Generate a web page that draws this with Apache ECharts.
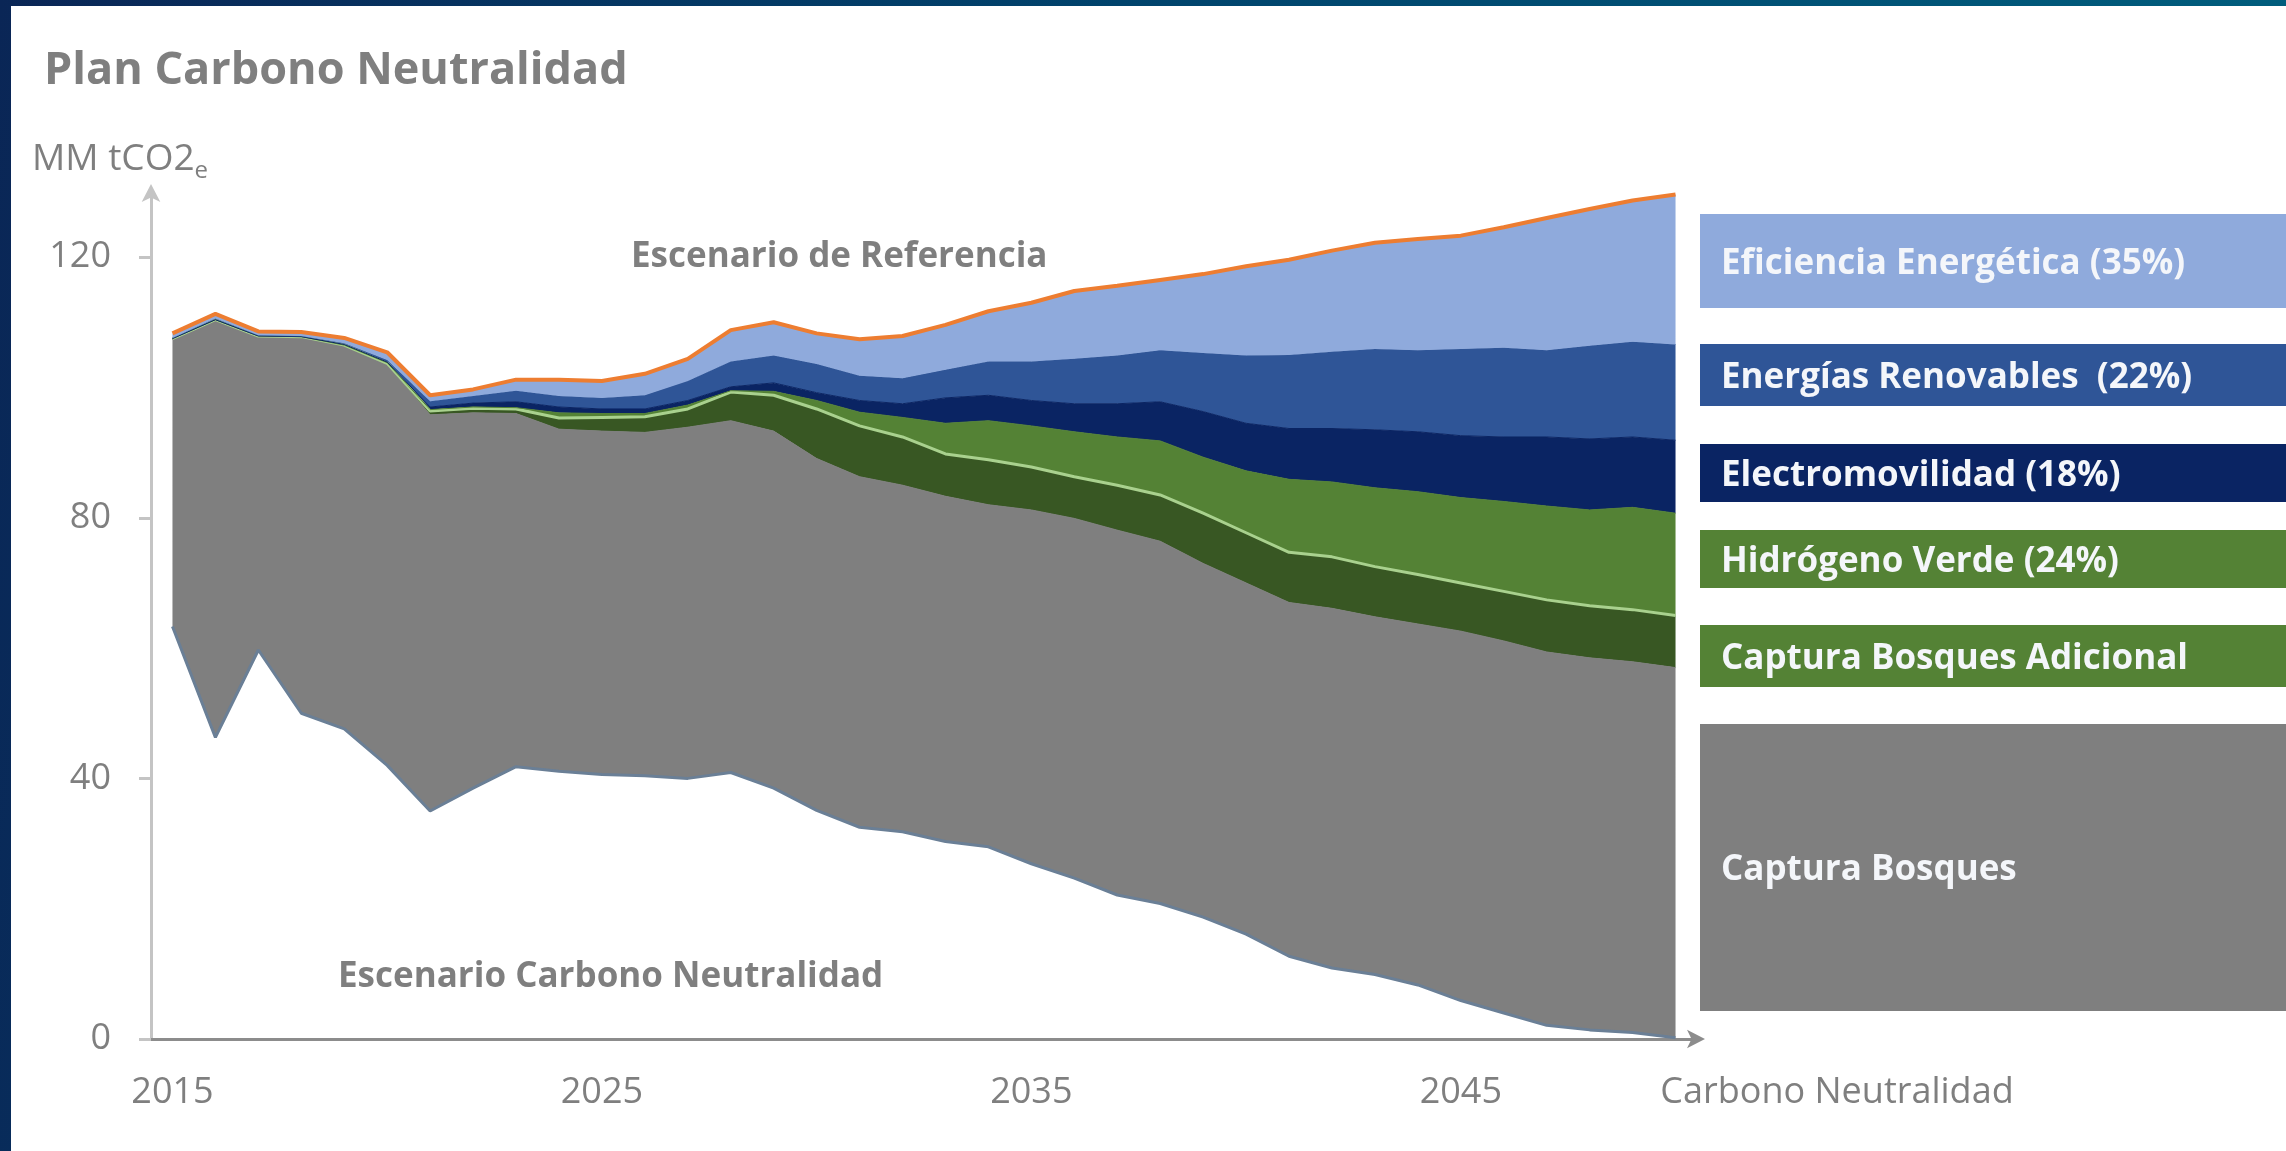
<!DOCTYPE html>
<html>
<head>
<meta charset="utf-8">
<title>Plan Carbono Neutralidad</title>
<script src="https://cdn.jsdelivr.net/npm/echarts@6/dist/echarts.min.js"></script>
<style>
    html, body {
        margin: 0;
        padding: 0;
        width: 2286px;
        height: 1151px;
        overflow: hidden;
        background: linear-gradient(100deg, #0a2656 0%, #00436c 45%, #00617f 100%);
    }
    #chart {
        position: absolute;
        left: 11px;
        top: 6px;
        width: 2275px;
        height: 1145px;
        background: #fff;
    }
</style>
</head>
<body>
<div id="chart"></div>
<script>
// categorias (años)
var years = ['2015', '2016', '2017', '2018', '2019', '2020', '2021', '2022', '2023', '2024',
    '2025', '2026', '2027', '2028', '2029', '2030', '2031', '2032', '2033', '2034',
    '2035', '2036', '2037', '2038', '2039', '2040', '2041', '2042', '2043', '2044',
    '2045', '2046', '2047', '2048', '2049', '2050'];

// bordes superiores de cada capa, MM tCO2e
var referencia = [108.3, 111.3, 108.6, 108.5, 107.6, 105.4, 98.8, 99.7, 101.2, 101.2,
    101.0, 102.1, 104.4, 108.8, 110.0, 108.3, 107.4, 107.9, 109.6, 111.7,
    113.0, 114.8, 115.6, 116.5, 117.4, 118.6, 119.6, 121.0, 122.2, 122.8,
    123.3, 124.6, 126.0, 127.4, 128.7, 129.6];
var renovables = [107.6, 110.6, 108.0, 107.9, 106.8, 104.2, 97.9, 98.7, 99.5, 98.7,
    98.4, 98.8, 101.0, 104.0, 104.9, 103.6, 101.8, 101.4, 102.7, 104.0,
    104.0, 104.4, 104.9, 105.7, 105.3, 104.9, 105.0, 105.5, 105.9, 105.7,
    105.9, 106.1, 105.7, 106.4, 107.0, 106.6];
var electromovilidad = [107.5, 110.4, 107.9, 107.8, 106.6, 103.9, 97.0, 97.6, 97.8, 97.0,
    96.7, 96.7, 98.0, 100.1, 100.7, 99.2, 98.0, 97.5, 98.4, 98.8,
    98.0, 97.5, 97.5, 97.8, 96.3, 94.5, 93.7, 93.7, 93.5, 93.2,
    92.6, 92.4, 92.4, 92.1, 92.4, 91.9];
var hidrogeno = [107.5, 110.4, 107.9, 107.8, 106.5, 103.8, 96.6, 97.0, 96.9, 96.1,
    96.0, 96.0, 97.3, 99.5, 99.4, 98.0, 96.2, 95.4, 94.5, 94.9,
    94.1, 93.2, 92.4, 91.8, 89.3, 87.2, 85.9, 85.5, 84.6, 84.0,
    83.1, 82.5, 81.8, 81.2, 81.6, 80.7];
var bosquesAdicional = [107.5, 110.4, 107.9, 107.8, 106.5, 103.7, 96.4, 96.8, 96.7, 95.3,
    95.4, 95.5, 96.7, 99.3, 98.8, 96.7, 94.1, 92.4, 89.8, 88.9,
    87.8, 86.3, 85.0, 83.5, 80.7, 77.7, 74.7, 74.0, 72.5, 71.3,
    70.0, 68.7, 67.4, 66.5, 65.9, 65.0];
var bosques = [107.4, 110.2, 107.9, 107.8, 106.4, 103.5, 95.8, 96.1, 96.0, 93.6,
    93.3, 93.1, 93.9, 94.9, 93.3, 89.1, 86.3, 85.0, 83.3, 82.0,
    81.2, 79.9, 78.1, 76.4, 73.0, 70.0, 67.0, 66.1, 64.8, 63.7,
    62.6, 61.1, 59.4, 58.5, 57.9, 57.0];
// Escenario Carbono Neutralidad (emisiones netas)
var neutralidad = [63.3, 46.3, 59.7, 50.0, 47.6, 42.0, 35.0, 38.5, 41.8, 41.1,
    40.6, 40.4, 40.0, 40.9, 38.5, 35.1, 32.5, 31.8, 30.3, 29.5,
    26.9, 24.7, 22.1, 20.8, 18.7, 16.1, 12.7, 10.9, 9.9, 8.3,
    5.9, 4.0, 2.1, 1.4, 1.0, 0.2];

// etiquetas de ejes y leyenda
var yTicks = [0, 40, 80, 120];
var legendLabels = ['Eficiencia Energética (35%)', 'Energías Renovables  (22%)', 'Electromovilidad (18%)',
    'Hidrógeno Verde (24%)', 'Captura Bosques Adicional', 'Captura Bosques'];

// colores
var cGray = '#7f7f7f',
    cAdicional = '#385723',
    cHidrogeno = '#548235',
    cElectro = '#0a2463',
    cRenov = '#2f5597',
    cEficiencia = '#8faadc';
var legendColors = [cEficiencia, cRenov, cElectro, cHidrogeno, cHidrogeno, cGray];
// [top, height] de cada caja de leyenda
var legendBoxes = [[208, 94], [338, 62], [438, 58], [524, 58], [619, 62], [718, 287]];

function band(upper, lower) {
    return upper.map(function (v, i) {
        return Math.round((v - lower[i]) * 10) / 10;
    });
}

function $extend(a, b) {
    for (var k in b) { a[k] = b[k]; }
    return a;
}

function layer(name, color, data, extra) {
    return $extend({
        name: name,
        type: 'line',
        stack: 'total',
        symbol: 'none',
        data: data,
        areaStyle: { color: color, opacity: 1 },
        lineStyle: { color: color, width: 1 },
        itemStyle: { color: color },
        emphasis: { disabled: true },
        animation: false
    }, extra || {});
}

var textGray = '#7f7f7f';
var chart = echarts.init(document.getElementById('chart'));

// cajas de leyenda a la derecha
var graphics = legendLabels.map(function (label, i) {
    var box = legendBoxes[i];
    return {
        type: 'group',
        left: 1689,
        top: box[0],
        children: [{
            type: 'rect',
            shape: { x: 0, y: 0, width: 586, height: box[1] },
            style: { fill: legendColors[i] }
        }, {
            type: 'text',
            x: 21,
            y: box[1] / 2 + 3,
            style: {
                text: label,
                fill: '#f4f6fa',
                fontFamily: 'Open Sans',
                fontWeight: 'bold',
                fontSize: 35,
                verticalAlign: 'middle'
            }
        }]
    };
});
graphics.push({
    type: 'text',
    x: 620,
    y: 251,
    style: {
        text: 'Escenario de Referencia',
        fill: textGray,
        fontFamily: 'Open Sans',
        fontWeight: 'bold',
        fontSize: 35,
        verticalAlign: 'middle'
    }
}, {
    type: 'text',
    x: 327,
    y: 971,
    style: {
        text: 'Escenario Carbono Neutralidad',
        fill: textGray,
        fontFamily: 'Open Sans',
        fontWeight: 'bold',
        fontSize: 35,
        verticalAlign: 'middle'
    }
});

var option = {
    backgroundColor: '#fff',
    title: {
        text: 'Plan Carbono Neutralidad',
        left: 28,
        top: 38,
        textStyle: {
            fontFamily: 'Open Sans',
            fontWeight: 'bold',
            fontSize: 45,
            color: textGray
        }
    },
    grid: {
        left: 140,
        right: 589,
        top: 186,
        bottom: 112,
        containLabel: false
    },
    xAxis: {
        type: 'category',
        data: years,
        boundaryGap: true,
        name: 'Carbono Neutralidad',
        nameLocation: 'end',
        nameGap: 140,
        nameTextStyle: {
            fontFamily: 'Open Sans',
            fontSize: 36,
            color: textGray,
            align: 'center',
            verticalAlign: 'top',
            padding: [36, 0, 0, 0]
        },
        axisLine: {
            lineStyle: { color: '#8c8c8c', width: 3 },
            symbol: ['none', 'arrow'],
            symbolSize: [14, 18],
            symbolOffset: [0, 8]
        },
        axisTick: {
            interval: 9,
            length: 12,
            lineStyle: { color: '#8c8c8c', width: 3 }
        },
        axisLabel: {
            interval: 9,
            margin: 36,
            fontFamily: 'Open Sans',
            fontSize: 36,
            color: textGray
        },
        splitLine: { show: false }
    },
    yAxis: {
        type: 'value',
        min: 0,
        max: 130,
        interval: 40,
        name: 'MM tCO2{sub|e}',
        nameLocation: 'end',
        nameGap: 33,
        nameTextStyle: {
            fontFamily: 'Open Sans',
            fontSize: 37,
            color: textGray,
            align: 'center',
            verticalAlign: 'middle',
            padding: [0, 62, 0, 0],
            rich: {
                sub: {
                    fontFamily: 'Open Sans',
                    fontSize: 24,
                    color: textGray,
                    verticalAlign: 'bottom',
                    lineHeight: 24,
                    padding: [0, 0, -6, 0]
                }
            }
        },
        axisLine: {
            show: true,
            lineStyle: { color: '#c4c4c4', width: 3 },
            symbol: ['none', 'arrow'],
            symbolSize: [14, 18],
            symbolOffset: [0, 8]
        },
        axisTick: {
            show: true,
            length: 12,
            lineStyle: { color: '#c4c4c4', width: 3 }
        },
        axisLabel: {
            margin: 40,
            showMaxLabel: false,
            fontFamily: 'Open Sans',
            fontSize: 36,
            color: textGray,
            formatter: function (v) {
                return yTicks.indexOf(v) >= 0 ? String(v) : '';
            }
        },
        splitLine: { show: false }
    },
    series: [
        layer('Escenario Carbono Neutralidad', '#6a7f96', neutralidad, {
            areaStyle: { opacity: 0 },
            lineStyle: { color: '#6a7f96', width: 3 },
            z: 4
        }),
        layer('Captura Bosques', cGray, band(bosques, neutralidad)),
        layer('Captura Bosques Adicional', cAdicional, band(bosquesAdicional, bosques), {
            lineStyle: { color: '#a9d18e', width: 3 },
            z: 3
        }),
        layer('Hidrógeno Verde', cHidrogeno, band(hidrogeno, bosquesAdicional)),
        layer('Electromovilidad', cElectro, band(electromovilidad, hidrogeno)),
        layer('Energías Renovables', cRenov, band(renovables, electromovilidad)),
        layer('Eficiencia Energética', cEficiencia, band(referencia, renovables), {
            lineStyle: { color: '#ed7d31', width: 4 },
            z: 4
        })
    ],
    graphic: graphics
};

chart.setOption(option);
</script>
</body>
</html>
